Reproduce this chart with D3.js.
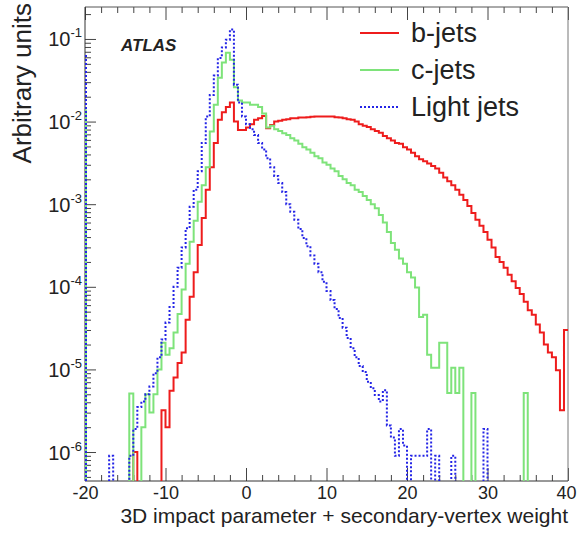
<!DOCTYPE html>
<html><head><meta charset="utf-8">
<script src="https://cdn.jsdelivr.net/npm/d3@7/dist/d3.min.js"></script>
<style>
body{margin:0;background:#fff;}
svg{display:block;font-family:"Liberation Sans",Arial,Helvetica,sans-serif;}
</style></head><body>
<svg id="c" width="577" height="534"></svg>
<script>
// ---- data ----
const binStart = -20, binWidth = 0.5;
const seriesNames = ["b-jets", "c-jets", "Light jets"];
const seriesColors = ["#ee1c1c", "#7ee37a", "#2424e6"];
// narrow first (underflow) bin at x = -20
const firstBin = [0.009, 0.014, 0.065];
const bJets = [
0,0,0,0,0,0,0,0,0,0,
0,0,1e-6,0,0,0,0,0,0,3.2e-6,
2e-6,5.5e-6,8e-6,1.2e-5,1.6e-5,4e-5,7.6e-5,1.5e-4,3.2e-4,6.8e-4,
1.5e-3,2.8e-3,5.5e-3,1.05e-2,1.3e-2,1.5e-2,1.7e-2,1.0e-2,7.9e-3,7.9e-3,
8.5e-3,9.3e-3,1.05e-2,1.1e-2,1.17e-2,8.3e-3,9.1e-3,1.0e-2,1.02e-2,1.05e-2,
1.07e-2,1.1e-2,1.1e-2,1.12e-2,1.12e-2,1.13e-2,1.14e-2,1.15e-2,1.15e-2,1.15e-2,
1.15e-2,1.15e-2,1.13e-2,1.12e-2,1.1e-2,1.07e-2,1.05e-2,1.0e-2,9.3e-3,8.9e-3,
8.6e-3,8.1e-3,7.7e-3,7.3e-3,6.7e-3,6.3e-3,5.9e-3,5.5e-3,5.4e-3,4.9e-3,
4.6e-3,4.2e-3,3.8e-3,3.5e-3,3.3e-3,3.1e-3,2.9e-3,2.7e-3,2.4e-3,2.1e-3,
1.9e-3,1.7e-3,1.5e-3,1.3e-3,1.12e-3,9.5e-4,7.8e-4,6.5e-4,5.5e-4,4.6e-4,
3.7e-4,3.0e-4,2.3e-4,2.0e-4,1.7e-4,1.4e-4,1.17e-4,9.7e-5,8.2e-5,6.6e-5,
5.2e-5,4.6e-5,3.5e-5,2.8e-5,2.0e-5,1.6e-5,1.4e-5,9.8e-6,3.2e-6,3.0e-5
];
const cJets = [
0,0,0,0,0,0,0,0,0,0,
0,5.1e-6,0,0,2e-6,5e-6,3e-6,5e-6,1e-5,2.1e-5,
1.5e-5,1.8e-5,2.8e-5,4.7e-5,9.3e-5,1.9e-4,3.5e-4,6.3e-4,1.07e-3,1.7e-3,
2.8e-3,7.6e-3,1.6e-2,3.4e-2,5.2e-2,6.8e-2,5.6e-2,2.6e-2,1.8e-2,1.7e-2,
1.7e-2,1.6e-2,1.6e-2,1.5e-2,1.25e-2,8.5e-3,8.9e-3,8.1e-3,7.7e-3,7.2e-3,
6.9e-3,6.3e-3,5.9e-3,5.4e-3,4.9e-3,4.6e-3,4.2e-3,3.8e-3,3.6e-3,3.2e-3,
3.0e-3,2.7e-3,2.5e-3,2.2e-3,2.0e-3,1.8e-3,1.7e-3,1.5e-3,1.4e-3,1.26e-3,
1.12e-3,1.0e-3,8.9e-4,7.4e-4,6.0e-4,4.6e-4,3.4e-4,2.8e-4,2.2e-4,1.9e-4,
1.5e-4,1.3e-4,9.8e-5,4.3e-5,4.6e-5,1.5e-5,1.05e-5,1.05e-5,2.1e-5,2.1e-5,
5.2e-6,1.05e-5,5.2e-6,1.05e-5,0,0,5.2e-6,0,0,0,
0,0,0,0,0,0,0,0,0,5.2e-6,
0,0,0,0,0,0,0,0,0,0
];
const lightJets = [
0,0,0,0,0,0,9e-7,0,0,0,
0,9e-7,1.9e-6,3.5e-6,4.1e-6,5e-6,6.2e-6,9e-6,1.4e-5,2.3e-5,
3.7e-5,5.7e-5,1.0e-4,1.7e-4,3.0e-4,5.1e-4,9.3e-4,1.5e-3,2.5e-3,5.5e-3,
1.15e-2,2.1e-2,3.6e-2,5.9e-2,7.9e-2,9.8e-2,0.13,2.8e-2,1.7e-2,1.15e-2,
9.3e-3,8.1e-3,6.9e-3,5.5e-3,4.6e-3,3.6e-3,2.8e-3,2.2e-3,1.8e-3,1.4e-3,
1.0e-3,8.1e-4,6.5e-4,5.0e-4,3.9e-4,3.1e-4,2.4e-4,1.9e-4,1.5e-4,1.15e-4,
8.9e-5,6.9e-5,5.4e-5,4.2e-5,3.2e-5,2.4e-5,1.8e-5,1.4e-5,1.1e-5,9.3e-6,
7.1e-6,5.9e-6,4.9e-6,4.1e-6,5.6e-6,2.1e-6,1.5e-6,9e-7,1.9e-6,1.2e-6,
0,9e-7,9e-7,9e-7,9e-7,1.9e-6,0,9e-7,0,0,
0,9e-7,0,0,0,0,0,0,0,1.9e-6,
0,0,0,0,0,0,0,0,0,0,
0,0,0,0,0,0,0,0,0,0
];
const xTicks = [-20, -10, 0, 10, 20, 30, 40];
const xTickLabels = ["-20", "-10", "0", "10", "20", "30", "40"];
const yTicks = [1e-6, 1e-5, 1e-4, 1e-3, 1e-2, 1e-1];
const yTickExponents = ["-6", "-5", "-4", "-3", "-2", "-1"];
const xTitle = "3D impact parameter + secondary-vertex weight";
const yTitle = "Arbitrary units";
const label = "ATLAS";

// ---- layout ----
const L = 85, R = 568, T = 7, B = 481, W = 577;
const svg = d3.select("#c");
const x = d3.scaleLinear().domain([-20, 40]).range([L, R]);
const y = d3.scaleLog().domain([4.46e-7, 0.2437]).range([B, T]);

svg.append("defs").append("clipPath").attr("id", "clip")
  .append("rect").attr("x", L - 2).attr("y", T).attr("width", R - L + 4).attr("height", B - T);

// minor tick values
const xMinor = d3.range(-20, 41, 2).filter(v => v % 10 !== 0);
const yMinor = [];
for (let e = -7; e <= -1; e++) for (let k = 2; k <= 9; k++) {
  const v = k * Math.pow(10, e);
  if (v > y.domain()[0] && v < y.domain()[1]) yMinor.push(v);
}

const axisColor = "#444";
function styleAxis(g) {
  g.selectAll(".domain").remove();
  g.selectAll("line").attr("stroke", axisColor).attr("stroke-width", 1);
}

// bottom axis
svg.append("g").attr("transform", `translate(0,${B})`)
  .call(d3.axisBottom(x).tickValues(xTicks).tickSize(-13).tickPadding(5)
    .tickFormat((d, i) => xTickLabels[i]))
  .call(styleAxis)
  .call(g => g.selectAll("text").attr("font-size", 18).attr("fill", "#222")
    .attr("font-family", "Liberation Sans, Arial, sans-serif"))
  .call(g => g.selectAll(".tick").filter(d => x(d) + 16 > W).select("text")
    .attr("text-anchor", "end").attr("x", W - 1 - R));
svg.append("g").attr("transform", `translate(0,${B})`)
  .call(d3.axisBottom(x).tickValues(xMinor).tickSize(-6).tickFormat(""))
  .call(styleAxis);
// top axis (mirror ticks)
svg.append("g").attr("transform", `translate(0,${T})`)
  .call(d3.axisTop(x).tickValues(xTicks).tickSize(-13).tickFormat(""))
  .call(styleAxis);
svg.append("g").attr("transform", `translate(0,${T})`)
  .call(d3.axisTop(x).tickValues(xMinor).tickSize(-6).tickFormat(""))
  .call(styleAxis);

// left axis
const yAx = svg.append("g").attr("transform", `translate(${L},0)`)
  .call(d3.axisLeft(y).tickValues(yTicks).tickSize(-11).tickFormat(""))
  .call(styleAxis);
yAx.selectAll(".tick").each(function (d, i) {
  const t = d3.select(this).append("text")
    .attr("x", -3).attr("y", 7).attr("text-anchor", "end")
    .attr("fill", "#222").attr("font-size", 20);
  t.append("tspan").text("10");
  t.append("tspan").attr("font-size", 13).attr("dy", -9).text(yTickExponents[i]);
});
svg.append("g").attr("transform", `translate(${L},0)`)
  .call(d3.axisLeft(y).tickValues(yMinor).tickSize(-6).tickFormat(""))
  .call(styleAxis);

// frame
svg.append("line").attr("x1", L).attr("x2", R).attr("y1", T).attr("y2", T).attr("stroke", "#555");
svg.append("line").attr("x1", R).attr("x2", R).attr("y1", T).attr("y2", B).attr("stroke", "#777");
svg.append("line").attr("x1", L).attr("x2", R).attr("y1", B).attr("y2", B).attr("stroke", "#333");
svg.append("line").attr("x1", L).attr("x2", L).attr("y1", T).attr("y2", B).attr("stroke", "#333");

// histograms
const series = [bJets, cJets, lightJets];
const dashes = [null, null, "2,2"];
const line = d3.line()
  .x(d => x(d[0]))
  .y(d => d[1] > 0 ? y(d[1]) : B + 4);
const plot = svg.append("g").attr("clip-path", "url(#clip)");
series.forEach((vals, s) => {
  const pts = [];
  vals.forEach((v, i) => {
    const x0 = binStart + i * binWidth;
    pts.push([x0, v], [x0 + binWidth, v]);
  });
  plot.append("path").attr("d", line(pts))
    .attr("fill", "none").attr("stroke", seriesColors[s]).attr("stroke-width", 2)
    .attr("stroke-dasharray", dashes[s]);
  plot.append("line")
    .attr("x1", x(binStart) + 1).attr("x2", x(binStart) + 1)
    .attr("y1", B).attr("y2", y(firstBin[s]))
    .attr("stroke", seriesColors[s]).attr("stroke-width", 2)
    .attr("stroke-dasharray", dashes[s]);
});

// legend
const legY = [33, 70, 107];
seriesNames.forEach((n, s) => {
  svg.append("line").attr("x1", 360).attr("x2", 399).attr("y1", legY[s]).attr("y2", legY[s])
    .attr("stroke", seriesColors[s]).attr("stroke-width", 2).attr("stroke-dasharray", dashes[s]);
  svg.append("text").attr("x", 411).attr("y", legY[s] + 9).attr("font-size", 27)
    .attr("fill", "#222").text(n);
});

// ATLAS label
svg.append("text").attr("x", 121).attr("y", 51).attr("font-size", 17)
  .attr("font-weight", "bold").attr("font-style", "italic").attr("fill", "#222").text(label);

// axis titles
svg.append("text").attr("x", 568).attr("y", 523).attr("text-anchor", "end")
  .attr("font-size", 21).attr("fill", "#222").text(xTitle);
svg.append("text").attr("transform", "translate(31,3) rotate(-90)")
  .attr("text-anchor", "end").attr("font-size", 26).attr("fill", "#222").text(yTitle);
</script>
</body></html>
